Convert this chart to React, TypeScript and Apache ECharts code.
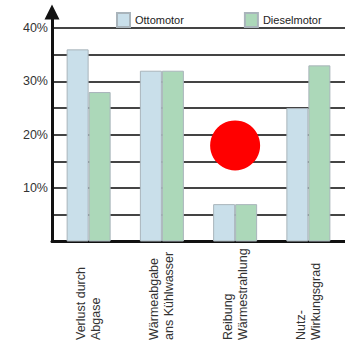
import React, { useEffect, useRef } from "react";
import * as echarts from "echarts";

// Anteile der zugeführten Energie (in %)
const categories = [
  "Verlust durch\nAbgase",
  "Wärmeabgabe\nans Kühlwasser",
  "Reibung\nWärmestrahlung",
  "Nutz-\nWirkungsgrad",
];
const ottoValues = [36, 32, 7, 25];
const dieselValues = [28, 32, 7, 33];
const seriesNames = ["Ottomotor", "Dieselmotor"];
const yTickLabels = [10, 20, 30, 40];

// red marker above the third group
const markerCategory = 2;
const markerValue = 18;

const FONT = "'Liberation Sans', Arial, sans-serif";

export default function App() {
  const ref = useRef<HTMLDivElement>(null);

  useEffect(() => {
    if (!ref.current) return;
    const chart = echarts.init(ref.current, undefined, { renderer: "svg" });

    const barBorder = { borderColor: "#a9b4bb", borderWidth: 1 };

    chart.setOption({
      animation: false,
      backgroundColor: "#ffffff",
      textStyle: { fontFamily: FONT },
      legend: {
        data: seriesNames,
        left: 111,
        top: 7,
        itemWidth: 13,
        itemHeight: 14,
        itemGap: 60,
        icon: "rect",
        textStyle: { fontSize: 11, color: "#222", fontFamily: FONT },
      },
      grid: { left: 52, right: -4, top: 12, bottom: 109.5, containLabel: false },
      xAxis: {
        type: "category",
        data: categories,
        axisLine: { show: true, lineStyle: { color: "#111", width: 3 } },
        axisTick: { show: false },
        splitLine: { show: false },
        axisLabel: {
          interval: 0,
          rotate: 90,
          align: "left",
          verticalAlign: "middle",
          margin: 98.5,
          fontSize: 12.5,
          lineHeight: 15,
          color: "#333",
          fontFamily: FONT,
        },
      },
      yAxis: {
        type: "value",
        min: 0,
        max: 43,
        interval: 5,
        axisLine: {
          show: true,
          lineStyle: { color: "#111", width: 3 },
          symbol: ["none", "triangle"],
          symbolSize: [15, 15],
        },
        axisTick: { show: false },
        splitLine: {
          show: true,
          showMaxLine: false,
          lineStyle: { color: "#444", width: 2 },
        },
        axisLabel: {
          margin: 4,
          fontSize: 12.5,
          color: "#333",
          fontFamily: FONT,
          formatter: (v: number) => (yTickLabels.includes(v) ? v + "%" : ""),
        },
      },
      series: [
        {
          name: seriesNames[0],
          type: "bar",
          data: ottoValues,
          barWidth: 22,
          barGap: "0%",
          itemStyle: { color: "#c9dfea", ...barBorder },
          z: 3,
        },
        {
          name: seriesNames[1],
          type: "bar",
          data: dieselValues,
          barWidth: 22,
          barGap: "0%",
          itemStyle: { color: "#acd8b9", ...barBorder },
          z: 3,
        },
        {
          name: "marker",
          type: "scatter",
          data: [[markerCategory, markerValue]],
          symbol: "circle",
          symbolSize: 50,
          itemStyle: { color: "#ff0000", opacity: 1 },
          z: 5,
        },
      ],
    });

    return () => chart.dispose();
  }, []);

  return (
    <div
      ref={ref}
      style={{ position: "fixed", left: 0, top: 0, width: 345, height: 351 }}
    />
  );
}
